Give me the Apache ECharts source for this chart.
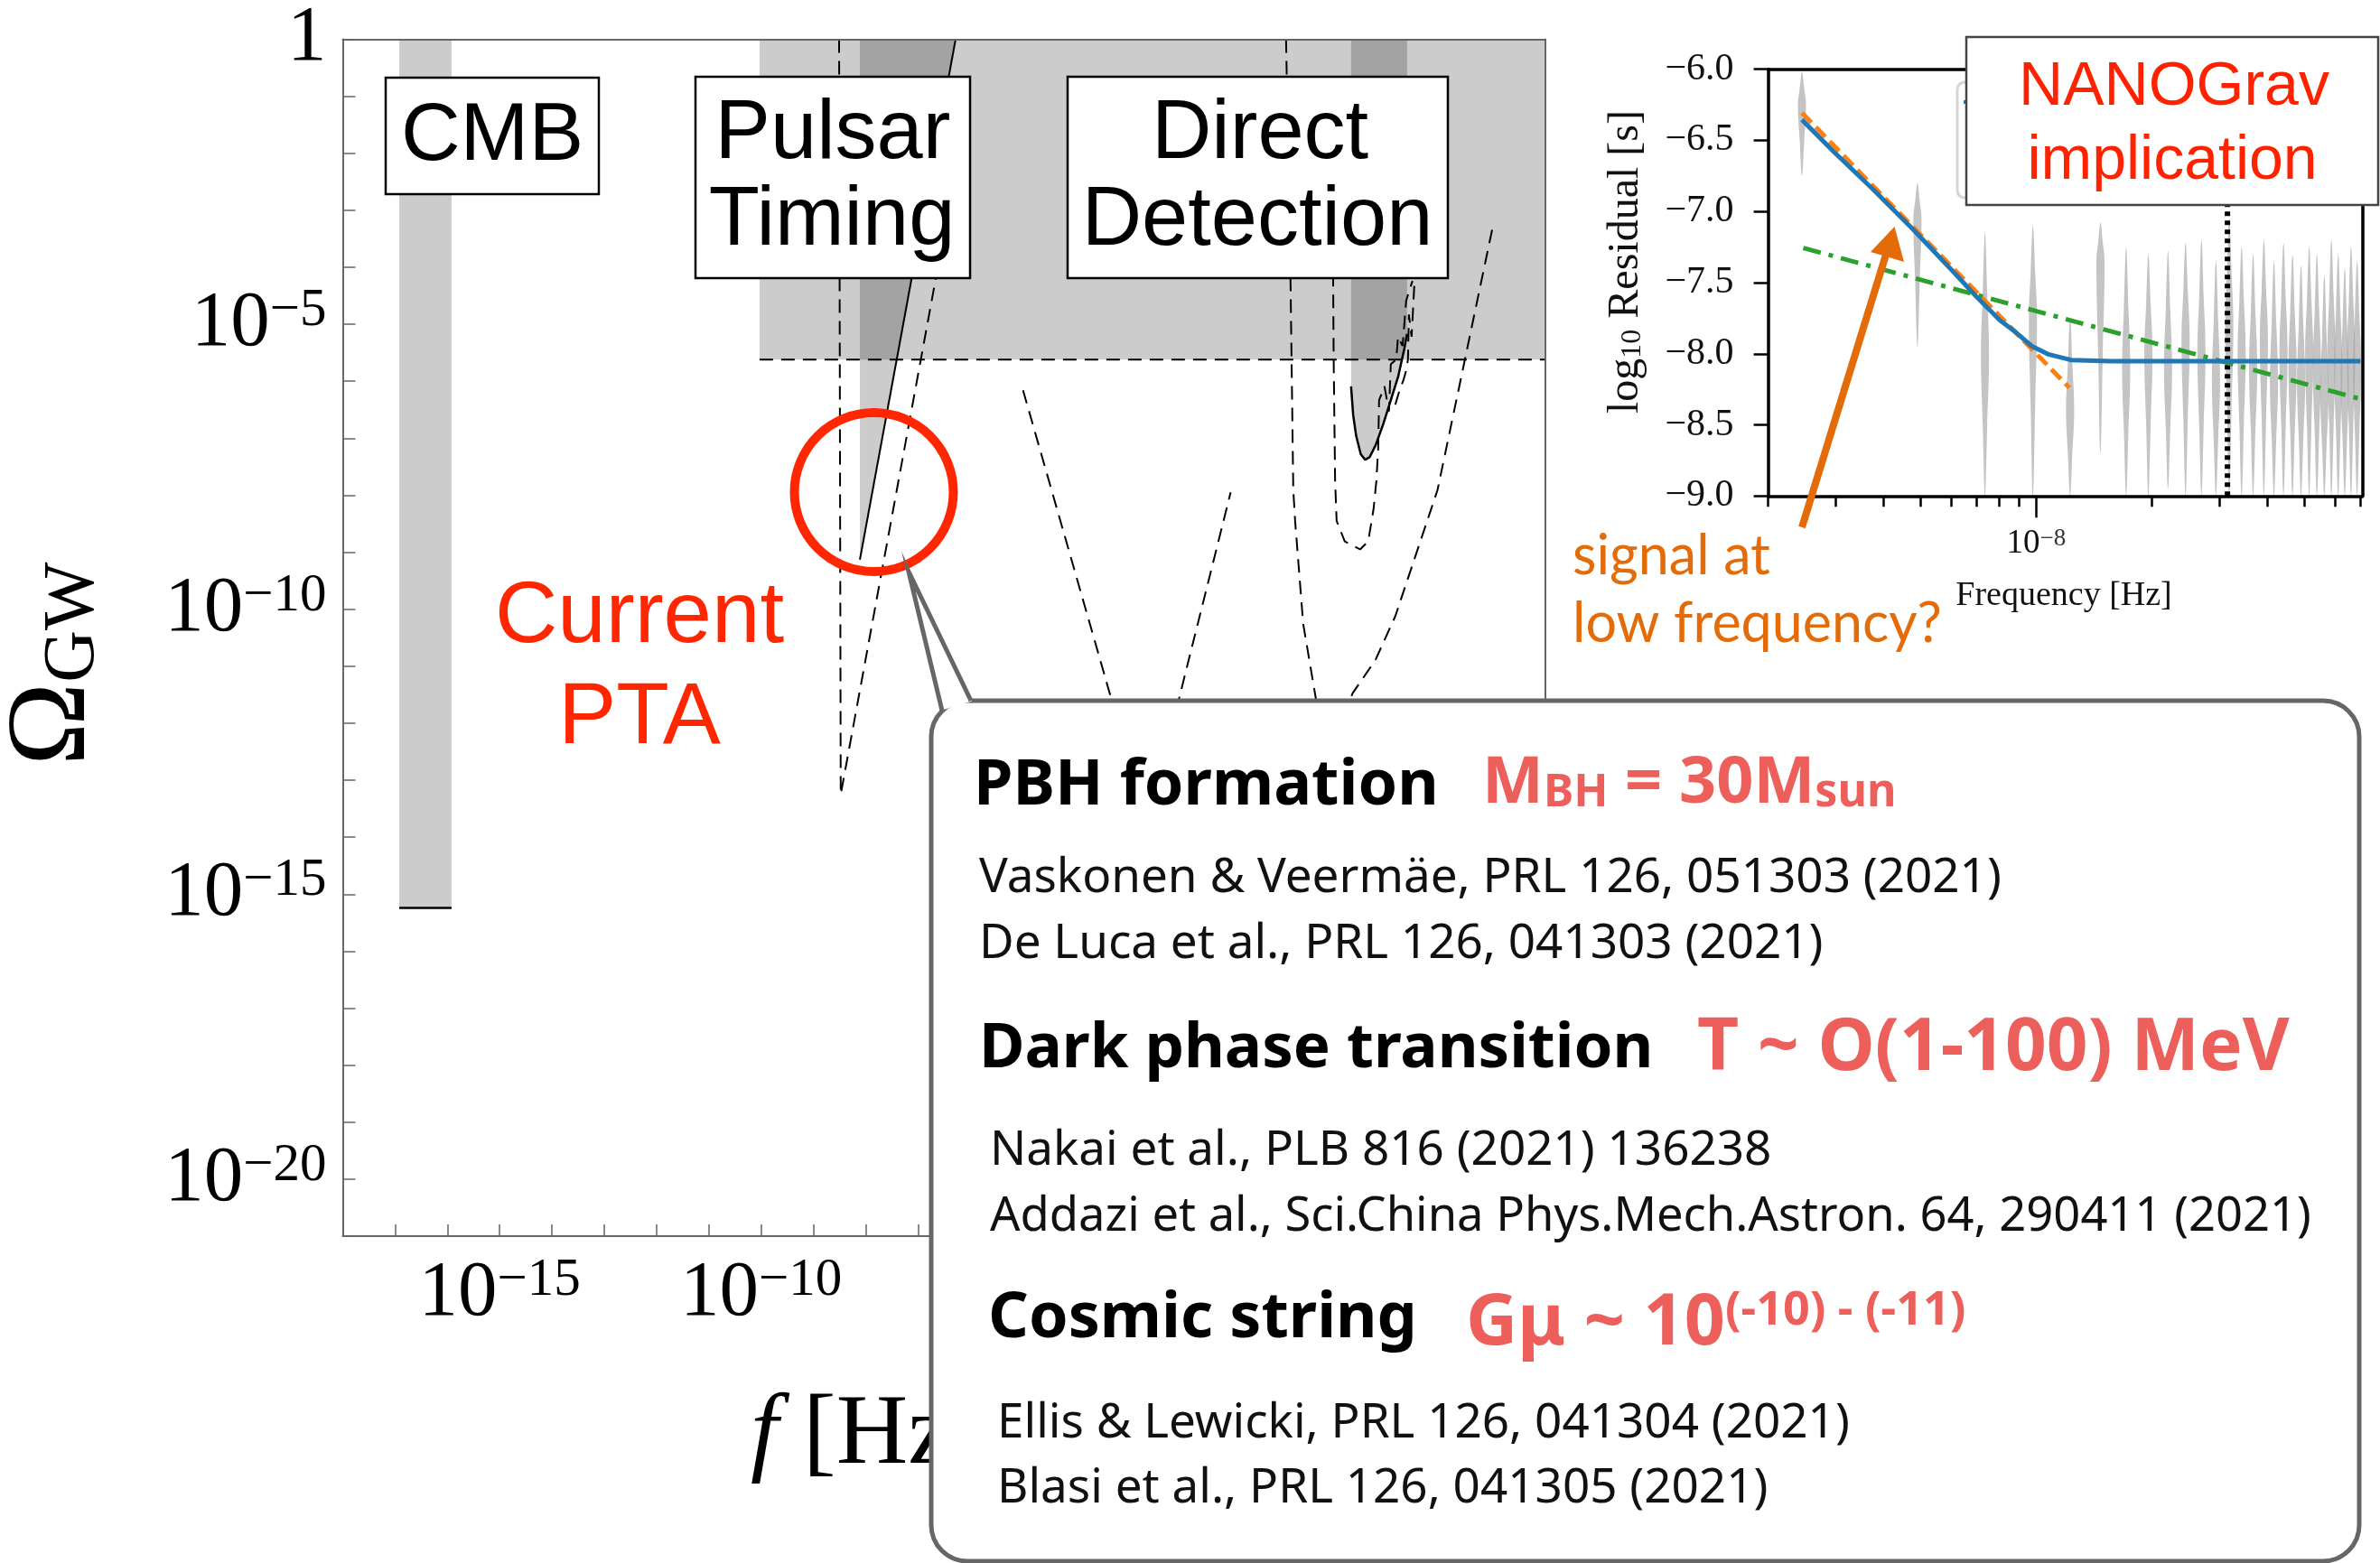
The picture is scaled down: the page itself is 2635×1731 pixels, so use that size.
<!DOCTYPE html>
<html>
<head>
<meta charset="utf-8">
<script src="https://cdn.jsdelivr.net/npm/echarts@6/dist/echarts.min.js"></script>
<style>
  html, body { margin: 0; padding: 0; background: #fff; }
  #chart { width: 2635px; height: 1731px; }
</style>
</head>
<body>
<div id="chart"></div>
<script>
// ===== Main panel: exponents, x = log10(f / Hz), y = log10(Omega_GW) =====
const mainXRange = [-18, 5];
const mainYRange = [-21, 0];
const labelledDecades = [0, -5, -10, -15, -20, 5];

// shaded regions (vertices in exponent space)
const cmbBand = [[-16.92, -15.24], [-15.92, -15.24], [-15.92, 0], [-16.92, 0]];
const pulsarBound = [[-10.03, -5.62], [5, -5.62], [5, 0], [-10.03, 0]];
const ptaRegion = [[-8.11, -9.13], [-6.28, 0], [-8.11, 0]];
const ligoCurve = [[1.283, -6.09], [1.323, -6.59], [1.381, -6.96], [1.468, -7.28], [1.554, -7.38],
  [1.640, -7.33], [1.754, -7.12], [1.899, -6.75], [2.043, -6.33], [2.186, -5.91], [2.302, -5.43], [2.354, -5.17]];
const ligoTop = [[2.354, 0], [1.283, 0]];

// solid curves
const cmbLimit = [[-16.92, -15.24], [-15.92, -15.24]];
const ptaSensitivity = [[-8.11, -9.13], [-6.28, 0]];

// dashed curves
const pulsarLimit = [[-10.03, -5.62], [5, -5.62]];
const skaCurve = [[-8.508, 0], [-8.477, -13.25], [-6.66, -4.2]];
const lisaCurve = [[-4.99, -6.16], [-3.30, -11.58], [-2.95, -12.6], [-2.6, -13.1], [-2.3, -12.7], [-2.01, -11.58], [-1.02, -7.95]];
const bboCurve = [[0.04, 0], [0.126, -4.29], [0.178, -7.91], [0.213, -8.45], [0.368, -10.26], [0.61, -11.57],
  [0.85, -12.1], [1.1, -12.0], [1.309, -11.48], [1.75, -10.89], [2.13, -10.12], [2.936, -7.91], [3.986, -3.32]];
const decigoCurve = [[0.939, -4.1], [0.951, -5.65], [0.978, -7.75], [1.007, -8.45], [1.163, -8.81], [1.456, -8.95],
  [1.611, -8.81], [1.715, -8.23], [1.767, -7.75], [1.802, -7.17], [1.819, -6.33], [1.922, -6.09], [2.008, -6.53],
  [2.043, -5.70], [2.147, -5.62], [2.181, -5.22], [2.268, -5.38], [2.337, -4.59], [2.389, -4.43], [2.458, -4.24]];
const ligoNoise = [[2.129, -6.41], [2.216, -6.14], [2.285, -5.98], [2.337, -5.81], [2.371, -5.62], [2.389, -4.83],
  [2.441, -5.22], [2.493, -4.31]];

// ===== Inset: timing residual spectrum =====
const insetFreqRange = [2e-9, 7.08e-8];
const insetMinorTicks = [2e-9, 3e-9, 4e-9, 5e-9, 6e-9, 7e-9, 8e-9, 9e-9, 2e-8, 3e-8, 4e-8, 5e-8, 6e-8, 7e-8];
const insetMajorTicks = [1e-8];
const residRange = [-9, -6];

const modelFreq = [2.45e-9, 2.96e-9, 3.75e-9, 4.76e-9, 6.04e-9, 6.97e-9, 8.04e-9, 8.83e-9, 9.73e-9, 1.07e-8, 1.23e-8, 1.56e-8, 7.0e-8];
const modelResid = [-6.355, -6.578, -6.843, -7.122, -7.416, -7.597, -7.765, -7.848, -7.946, -8.002, -8.044, -8.053, -8.053];
const powerLawFreq = [2.45e-9, 1.22e-8];
const powerLawResid = [-6.307, -8.239];
const altFreq = [2.47e-9, 7.0e-8];
const altResid = [-7.256, -8.318];
const oneYearFreq = 3.15e-8;

const violinFreq = [2.45e-9, 4.9e-9, 7.35e-9, 9.8e-9, 1.225e-8, 1.47e-8, 1.715e-8, 1.96e-8, 2.205e-8, 2.45e-8,
  2.695e-8, 2.94e-8, 3.185e-8, 3.43e-8, 3.675e-8, 3.92e-8, 4.165e-8, 4.41e-8, 4.655e-8, 4.9e-8,
  5.145e-8, 5.39e-8, 5.635e-8, 5.88e-8, 6.125e-8, 6.37e-8, 6.615e-8, 6.86e-8];
const violinHigh = [-6.02, -6.80, -7.15, -7.10, -7.75, -7.08, -7.25, -7.30, -7.28, -7.22,
  -7.20, -7.35, -7.05, -7.25, -7.30, -7.20, -7.35, -7.22, -7.30, -7.38,
  -7.25, -7.30, -7.45, -7.20, -7.30, -7.40, -7.25, -7.35];
const violinLow = [-6.75, -7.95, -9.0, -9.0, -9.0, -8.70, -9.0, -9.0, -8.95, -9.0,
  -9.0, -9.0, -9.0, -9.0, -9.0, -9.0, -9.0, -9.0, -9.0, -9.0,
  -9.0, -9.0, -9.0, -9.0, -9.0, -9.0, -9.0, -9.0];
const violinPeak = [-6.25, -7.05, -8.0, -7.75, -8.4, -7.35, -8.1, -8.0, -8.1, -7.9,
  -8.0, -8.2, -7.8, -8.0, -8.1, -7.9, -8.2, -8.0, -8.1, -8.2,
  -8.0, -8.1, -8.3, -8.0, -8.1, -8.2, -8.0, -8.1];

// ===== helpers =====
const SERIF = '"Liberation Serif", "Times New Roman", serif';
const SANS = '"Liberation Sans", Arial, sans-serif';
const NOTO = '"Noto Sans", sans-serif';
const MINUS = '\u2212';
const lg = Math.log10;

const regions = [cmbBand, pulsarBound, ptaRegion, ligoCurve.concat(ligoTop)];

function powLabel(v) {
  if (v === 0) return '{b|1}';
  return '{b|10}{s|' + (v < 0 ? MINUS : '') + Math.abs(v) + '}';
}
const mainRich = {
  b: { fontFamily: SERIF, fontSize: 87, color: '#000', lineHeight: 88 },
  s: { fontFamily: SERIF, fontSize: 59, color: '#000', lineHeight: 36, verticalAlign: 'top' }
};
const frameAxis = { onZero: false, lineStyle: { color: '#666', width: 2 } };

function mainLine(data, dashed, width) {
  return {
    type: 'line', xAxisIndex: 0, yAxisIndex: 0, data: data, symbol: 'none', silent: true, z: 3,
    lineStyle: { color: '#000', width: width || 2, type: dashed ? [15, 9] : 'solid' }
  };
}
function insetLine(freq, resid, color, width, type, z) {
  return {
    type: 'line', xAxisIndex: 2, yAxisIndex: 2, symbol: 'none', silent: true, z: z || 4,
    data: freq.map((f, i) => [lg(f), resid[i]]),
    lineStyle: { color: color, width: width, type: type, cap: 'butt' }
  };
}

const option = {
  animation: false,
  backgroundColor: '#fff',
  grid: [
    { left: 379.5, top: 39.3, width: 1331.5, height: 1329.7, show: false },
    { left: 1957.6, top: 76.7, width: 657.9, height: 472.6, show: false }
  ],
  xAxis: [
    { // main, bottom
      gridIndex: 0, type: 'value', position: 'bottom', min: mainXRange[0], max: mainXRange[1], interval: 1, z: 10,
      axisLine: frameAxis,
      axisTick: { inside: true, length: 13, lineStyle: { color: '#666', width: 1.5 } },
      axisLabel: {
        margin: 20,
        formatter: v => (labelledDecades.indexOf(v) >= 0 ? powLabel(v) : ''),
        rich: mainRich
      },
      splitLine: { show: false }
    },
    { // main, top frame
      gridIndex: 0, type: 'value', position: 'top', min: mainXRange[0], max: mainXRange[1], z: 10,
      axisLine: frameAxis,
      axisTick: { show: false }, axisLabel: { show: false }, splitLine: { show: false }
    },
    { // inset, bottom minor ticks
      gridIndex: 1, type: 'value', position: 'bottom', min: lg(insetFreqRange[0]), max: lg(insetFreqRange[1]), z: 10,
      axisLine: { onZero: false, lineStyle: { color: '#000', width: 3.5 } },
      axisTick: { customValues: insetMinorTicks.map(lg), length: 12, lineStyle: { color: '#000', width: 2.5 } },
      axisLabel: { show: false }, splitLine: { show: false }
    },
    { // inset, major tick and label
      gridIndex: 1, type: 'value', position: 'bottom', min: lg(insetFreqRange[0]), max: lg(insetFreqRange[1]), z: 10,
      axisLine: { show: false, onZero: false },
      axisTick: { customValues: insetMajorTicks.map(lg), length: 24, lineStyle: { color: '#000', width: 2.5 } },
      axisLabel: {
        customValues: insetMajorTicks.map(lg), margin: 34,
        formatter: v => '{b|10}{s|' + MINUS + Math.abs(Math.round(v)) + '}',
        rich: {
          b: { fontFamily: SERIF, fontSize: 37, color: '#111', lineHeight: 38 },
          s: { fontFamily: SERIF, fontSize: 27, color: '#333', lineHeight: 14, verticalAlign: 'top' }
        }
      },
      splitLine: { show: false }
    },
    { // inset, top frame
      gridIndex: 1, type: 'value', position: 'top', min: lg(insetFreqRange[0]), max: lg(insetFreqRange[1]), z: 10,
      axisLine: { onZero: false, lineStyle: { color: '#000', width: 3.5 } },
      axisTick: { show: false }, axisLabel: { show: false }, splitLine: { show: false }
    }
  ],
  yAxis: [
    { // main, left
      gridIndex: 0, type: 'value', position: 'left', min: mainYRange[0], max: mainYRange[1], interval: 1, z: 10,
      axisLine: frameAxis,
      axisTick: { inside: true, length: 14, lineStyle: { color: '#666', width: 1.5 } },
      axisLabel: {
        margin: 18,
        formatter: v => (labelledDecades.indexOf(v) >= 0 ? powLabel(v) : ''),
        rich: mainRich
      },
      splitLine: { show: false }
    },
    { // main, right frame
      gridIndex: 0, type: 'value', position: 'right', min: mainYRange[0], max: mainYRange[1], z: 10,
      axisLine: frameAxis,
      axisTick: { show: false }, axisLabel: { show: false }, splitLine: { show: false }
    },
    { // inset, left
      gridIndex: 1, type: 'value', position: 'left', min: residRange[0], max: residRange[1], interval: 0.5, z: 10,
      axisLine: { onZero: false, lineStyle: { color: '#000', width: 3.5 } },
      axisTick: { length: 16, lineStyle: { color: '#000', width: 2.5 } },
      axisLabel: {
        margin: 38, fontFamily: SERIF, fontSize: 42, color: '#111',
        formatter: v => (v < 0 ? MINUS : '') + Math.abs(v).toFixed(1)
      },
      splitLine: { show: false }
    },
    { // inset, right frame
      gridIndex: 1, type: 'value', position: 'right', min: residRange[0], max: residRange[1], z: 10,
      axisLine: { onZero: false, lineStyle: { color: '#000', width: 3.5 } },
      axisTick: { show: false }, axisLabel: { show: false }, splitLine: { show: false }
    }
  ],
  series: [
    { // excluded / sensitivity regions; overlaps darken naturally
      type: 'custom', xAxisIndex: 0, yAxisIndex: 0, z: 1, silent: true,
      data: regions.map(r => r[0]),
      renderItem: (params, api) => ({
        type: 'polygon',
        shape: { points: regions[params.dataIndex].map(p => api.coord(p)) },
        style: { fill: 'rgba(0,0,0,0.2)' }
      })
    },
    mainLine(cmbLimit, false, 2.5),
    mainLine(ptaSensitivity, false, 2),
    mainLine(ligoCurve, false, 2.5),
    mainLine(pulsarLimit, true, 2),
    mainLine(skaCurve, true, 2),
    mainLine(lisaCurve, true, 2),
    mainLine(bboCurve, true, 2),
    mainLine(decigoCurve, true, 2),
    mainLine(ligoNoise, true, 2),
    { // posterior violins of the residual spectrum
      type: 'custom', xAxisIndex: 2, yAxisIndex: 2, z: 2, silent: true, clip: true,
      data: violinFreq.map((f, i) => [lg(f), violinLow[i], violinHigh[i], violinPeak[i]]),
      renderItem: (params, api) => {
        const f = api.value(0);
        const t = api.coord([f, api.value(2)]);
        const m = api.coord([f, api.value(3)]);
        const b = api.coord([f, api.value(1)]);
        const w = 4.5;
        return {
          type: 'polygon',
          shape: {
            smooth: 0.4,
            points: [t, [m[0] + w * 0.55, (t[1] + m[1]) / 2], [m[0] + w, m[1]], [m[0] + w * 0.55, (m[1] + b[1]) / 2], b,
              [m[0] - w * 0.55, (m[1] + b[1]) / 2], [m[0] - w, m[1]], [m[0] - w * 0.55, (t[1] + m[1]) / 2]]
          },
          style: { fill: 'rgba(160,160,160,0.62)' }
        };
      }
    },
    insetLine(altFreq, altResid, '#2ca02c', 5, [20, 9, 5, 9], 4),
    insetLine(powerLawFreq, powerLawResid, '#ff7f0e', 5, [15, 7], 5),
    insetLine(modelFreq, modelResid, '#1f77b4', 5, 'solid', 6),
    insetLine([oneYearFreq, oneYearFreq], residRange, '#000', 6, [5, 5], 3)
  ],
  graphic: {
    elements: [
      // axis titles of the main panel
      {
        type: 'text', x: 831, y: 1591, z: 110,
        style: {
          text: '{i|f}{n| [Hz]}', verticalAlign: 'middle', align: 'left',
          rich: {
            i: { fontFamily: SERIF, fontStyle: 'italic', fontSize: 110, fill: '#000' },
            n: { fontFamily: SERIF, fontSize: 110, fill: '#000' }
          }
        }
      },
      {
        type: 'text', x: 60, y: 848, rotation: Math.PI / 2, z: 110,
        style: {
          text: '{o|\u03A9}{g|GW}', align: 'left', verticalAlign: 'middle',
          rich: {
            o: { fontFamily: SERIF, fontSize: 124, fill: '#000' },
            g: { fontFamily: SERIF, fontSize: 80, fill: '#000', verticalAlign: 'bottom' }
          }
        }
      },
      // observation-window tags
      { type: 'rect', z: 100, shape: { x: 427, y: 86, width: 236, height: 129 }, style: { fill: '#fff', stroke: '#000', lineWidth: 2.5 } },
      { type: 'text', z: 101, x: 545, y: 152, style: { text: 'CMB', fontFamily: SANS, fontSize: 91, fill: '#000', align: 'center', verticalAlign: 'middle' } },
      { type: 'rect', z: 100, shape: { x: 770, y: 85, width: 304, height: 223 }, style: { fill: '#fff', stroke: '#000', lineWidth: 2.5 } },
      { type: 'text', z: 101, x: 922, y: 150, style: { text: 'Pulsar', fontFamily: SANS, fontSize: 92, fill: '#000', align: 'center', verticalAlign: 'middle' } },
      { type: 'text', z: 101, x: 921, y: 246, style: { text: 'Timing', fontFamily: SANS, fontSize: 92, fill: '#000', align: 'center', verticalAlign: 'middle' } },
      { type: 'rect', z: 100, shape: { x: 1182, y: 85, width: 421, height: 223 }, style: { fill: '#fff', stroke: '#000', lineWidth: 2.5 } },
      { type: 'text', z: 101, x: 1395, y: 150, style: { text: 'Direct', fontFamily: SANS, fontSize: 92, fill: '#000', align: 'center', verticalAlign: 'middle' } },
      { type: 'text', z: 101, x: 1392, y: 246, style: { text: 'Detection', fontFamily: SANS, fontSize: 92, fill: '#000', align: 'center', verticalAlign: 'middle' } },
      // current PTA highlight
      { type: 'text', z: 101, x: 708, y: 685, style: { text: 'Current', fontFamily: SANS, fontSize: 96, fill: '#ff2600', align: 'center', verticalAlign: 'middle' } },
      { type: 'text', z: 101, x: 708, y: 797, style: { text: 'PTA', fontFamily: SANS, fontSize: 96, fill: '#ff2600', align: 'center', verticalAlign: 'middle' } },
      { type: 'circle', z: 101, shape: { cx: 967.5, cy: 545, r: 88 }, style: { fill: 'none', stroke: '#ff2600', lineWidth: 10 } },
      // speech bubble with interpretations
      { type: 'rect', z: 120, shape: { x: 1031, y: 776, width: 1581, height: 953, r: 40 }, style: { fill: '#fff', stroke: '#666', lineWidth: 5 } },
      { type: 'polygon', z: 121, shape: { points: [[1006, 633], [1076, 776.5], [1043, 786.5]] }, style: { fill: '#fff' } },
      { type: 'polyline', z: 122, shape: { points: [[1075, 776], [1006, 633], [1043, 787]] }, style: { stroke: '#666', lineWidth: 5, lineJoin: 'miter', fill: null } },
      { type: 'text', z: 130, x: 1078, y: 871, style: { text: 'PBH formation', fontFamily: NOTO, fontWeight: 'bold', fontSize: 70, fill: '#000', verticalAlign: 'middle' } },
      {
        type: 'text', z: 130, x: 1641, y: 868,
        style: {
          text: '{r|M}{u|BH}{r| = 30M}{u|sun}', verticalAlign: 'middle',
          rich: {
            r: { fontFamily: NOTO, fontWeight: 'bold', fontSize: 72, fill: '#ec5f5b' },
            u: { fontFamily: NOTO, fontWeight: 'bold', fontSize: 50, fill: '#ec5f5b', verticalAlign: 'bottom', lineHeight: 60 }
          }
        }
      },
      { type: 'text', z: 130, x: 1084, y: 973, style: { text: 'Vaskonen & Veerm\u00e4e, PRL 126, 051303 (2021)', fontFamily: NOTO, fontSize: 53, fill: '#111', verticalAlign: 'middle' } },
      { type: 'text', z: 130, x: 1084, y: 1046, style: { text: 'De Luca et al., PRL 126, 041303 (2021)', fontFamily: NOTO, fontSize: 53, fill: '#111', verticalAlign: 'middle' } },
      { type: 'text', z: 130, x: 1084, y: 1162, style: { text: 'Dark phase transition', fontFamily: NOTO, fontWeight: 'bold', fontSize: 69, fill: '#000', verticalAlign: 'middle' } },
      { type: 'text', z: 130, x: 1879, y: 1162, style: { text: 'T ~ O(1-100) MeV', fontFamily: NOTO, fontWeight: 'bold', fontSize: 80, fill: '#ec5f5b', verticalAlign: 'middle' } },
      { type: 'text', z: 130, x: 1096, y: 1275, style: { text: 'Nakai et al., PLB 816 (2021) 136238', fontFamily: NOTO, fontSize: 53, fill: '#111', verticalAlign: 'middle' } },
      { type: 'text', z: 130, x: 1096, y: 1348, style: { text: 'Addazi et al., Sci.China Phys.Mech.Astron. 64, 290411 (2021)', fontFamily: NOTO, fontSize: 52.5, fill: '#111', verticalAlign: 'middle' } },
      { type: 'text', z: 130, x: 1094, y: 1461, style: { text: 'Cosmic string', fontFamily: NOTO, fontWeight: 'bold', fontSize: 70, fill: '#000', verticalAlign: 'middle' } },
      {
        type: 'text', z: 130, x: 1623, y: 1466,
        style: {
          text: '{r|G\u03BC ~ 10}{p|(-10) - (-11)}', verticalAlign: 'middle',
          rich: {
            r: { fontFamily: NOTO, fontWeight: 'bold', fontSize: 79, fill: '#ec5f5b' },
            p: { fontFamily: NOTO, fontWeight: 'bold', fontSize: 52, fill: '#ec5f5b', verticalAlign: 'top', lineHeight: 44 }
          }
        }
      },
      { type: 'text', z: 130, x: 1104, y: 1577, style: { text: 'Ellis & Lewicki, PRL 126, 041304 (2021)', fontFamily: NOTO, fontSize: 53, fill: '#111', verticalAlign: 'middle' } },
      { type: 'text', z: 130, x: 1104, y: 1649, style: { text: 'Blasi et al., PRL 126, 041305 (2021)', fontFamily: NOTO, fontSize: 53, fill: '#111', verticalAlign: 'middle' } },
      // inset titles
      {
        type: 'text', z: 100, x: 1800, y: 290, rotation: Math.PI / 2,
        style: {
          text: '{n|log}{u|10}{n| Residual [s]}', align: 'center', verticalAlign: 'middle',
          rich: {
            n: { fontFamily: SERIF, fontSize: 48, fill: '#111' },
            u: { fontFamily: SERIF, fontSize: 32, fill: '#111', verticalAlign: 'bottom' }
          }
        }
      },
      { type: 'text', z: 100, x: 2285, y: 660, style: { text: 'Frequency [Hz]', fontFamily: SERIF, fontSize: 38, fill: '#111', align: 'center', verticalAlign: 'middle' } },
      // inset legend frame (mostly hidden)
      { type: 'rect', z: 90, shape: { x: 2167, y: 91, width: 150, height: 128, r: 8 }, style: { fill: '#fff', stroke: '#d5d5d5', lineWidth: 3 } },
      { type: 'line', z: 91, shape: { x1: 2174, y1: 113, x2: 2205, y2: 113 }, style: { stroke: '#1f77b4', lineWidth: 4 } },
      // NANOGrav tag
      { type: 'rect', z: 100, shape: { x: 2177, y: 41, width: 456, height: 186 }, style: { fill: '#fff', stroke: '#444', lineWidth: 2.5 } },
      { type: 'text', z: 101, x: 2407, y: 97, style: { text: 'NANOGrav', fontFamily: SANS, fontSize: 68, fill: '#ff2200', align: 'center', verticalAlign: 'middle' } },
      { type: 'text', z: 101, x: 2405, y: 179, style: { text: 'implication', fontFamily: SANS, fontSize: 68, fill: '#ff2200', align: 'center', verticalAlign: 'middle' } },
      // arrow and note
      { type: 'line', z: 102, shape: { x1: 1995, y1: 584, x2: 2088, y2: 282 }, style: { stroke: '#e36c09', lineWidth: 8 } },
      { type: 'polygon', z: 102, shape: { points: [[2097.5, 251], [2071, 279], [2108, 290]] }, style: { fill: '#e36c09' } },
      { type: 'text', z: 102, x: 1741, y: 616, style: { text: 'signal at', fontFamily: 'Lato, sans-serif', fontSize: 61, fill: '#e36c09', verticalAlign: 'middle' } },
      { type: 'text', z: 102, x: 1741, y: 691, style: { text: 'low frequency?', fontFamily: 'Lato, sans-serif', fontSize: 61, fill: '#e36c09', verticalAlign: 'middle' } }
    ]
  }
};

const chart = echarts.init(document.getElementById('chart'), null, { renderer: 'canvas' });
chart.setOption(option);
</script>
</body>
</html>
